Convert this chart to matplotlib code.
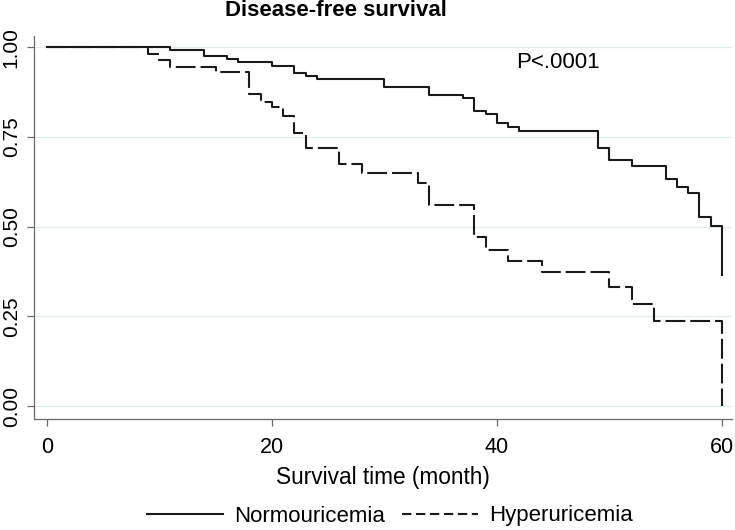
import matplotlib
matplotlib.use("Agg")
import matplotlib.pyplot as plt
from matplotlib.lines import Line2D

# Kaplan-Meier steps (month, survival)
normo_time = [0, 11, 14, 16, 17, 20, 22, 23, 24, 30, 34, 37, 38, 39, 40, 41, 42,
              49, 50, 52, 55, 56, 57, 58, 59, 60]
normo_surv = [1.0, 0.991, 0.976, 0.966, 0.958, 0.948, 0.929, 0.920, 0.910, 0.888,
              0.867, 0.858, 0.822, 0.813, 0.788, 0.778, 0.766, 0.718, 0.686, 0.669,
              0.632, 0.611, 0.593, 0.526, 0.502, 0.365]

hyper_time = [0, 9, 10, 11, 15, 18, 19, 20, 21, 22, 23, 26, 28, 33, 34, 38, 39, 41,
              44, 50, 52, 54, 60]
hyper_surv = [1.0, 0.981, 0.965, 0.946, 0.931, 0.869, 0.848, 0.834, 0.807, 0.760,
              0.718, 0.674, 0.649, 0.621, 0.560, 0.472, 0.435, 0.405, 0.373, 0.333,
              0.284, 0.237, 0.0]

x_ticks = [0, 20, 40, 60]
y_ticks = [0.0, 0.25, 0.5, 0.75, 1.0]
y_ticklabels = ["0.00", "0.25", "0.50", "0.75", "1.00"]

plt.rcParams['font.family'] = ['Liberation Sans', 'DejaVu Sans']
line_col = '#1a1a1a'
spine_col = '#6a6a6a'

fig = plt.figure(figsize=(7.35, 5.3), dpi=100)
ax = fig.add_axes([34/735, 1 - 419/530, (732 - 34)/735, (419 - 36)/530])

ax.step(normo_time, normo_surv, where='post', color=line_col, lw=1.5)
ax.step(hyper_time, hyper_surv, where='post', color=line_col, lw=1.5,
        dashes=(9.5, 2.4))

ax.set_xlim(-1.13, 60.9)
ax.set_ylim(-0.036, 1.031)
ax.set_xticks(x_ticks)
ax.set_yticks(y_ticks)
ax.set_yticklabels(y_ticklabels, rotation=90, va='center')
ax.tick_params(axis='both', labelsize=15.5, length=5, width=0.9, color=spine_col)
ax.tick_params(axis='y', labelsize=15, pad=4.5)
ax.tick_params(axis='x', pad=8)

ax.grid(axis='y', color='#e1eaee', lw=0.9)
ax.set_axisbelow(True)
for s in ['top', 'right']:
    ax.spines[s].set_visible(False)
for s in ['left', 'bottom']:
    ax.spines[s].set_color(spine_col)
    ax.spines[s].set_linewidth(0.9)

ax.set_xlabel('Survival time (month)', fontsize=16.3, labelpad=6)
ax.text(45.4, 0.956, 'P<.0001', fontsize=16, ha='center', va='center')

fig.text(336/735, 1 - 10/530, 'Disease-free survival', fontsize=16, fontweight='bold',
         ha='center', va='center')

handles = [Line2D([], [], color=line_col, lw=1.5),
           Line2D([], [], color=line_col, lw=1.5, dashes=(4.5, 2.2))]
fig.legend(handles, ['Normouricemia', 'Hyperuricemia'], loc='center',
           bbox_to_anchor=(390/735, 1 - 516/530), ncol=2, frameon=False,
           fontsize=16, handlelength=3.4, handletextpad=0.5, columnspacing=0.8)

fig.savefig('out.png', dpi=100)
